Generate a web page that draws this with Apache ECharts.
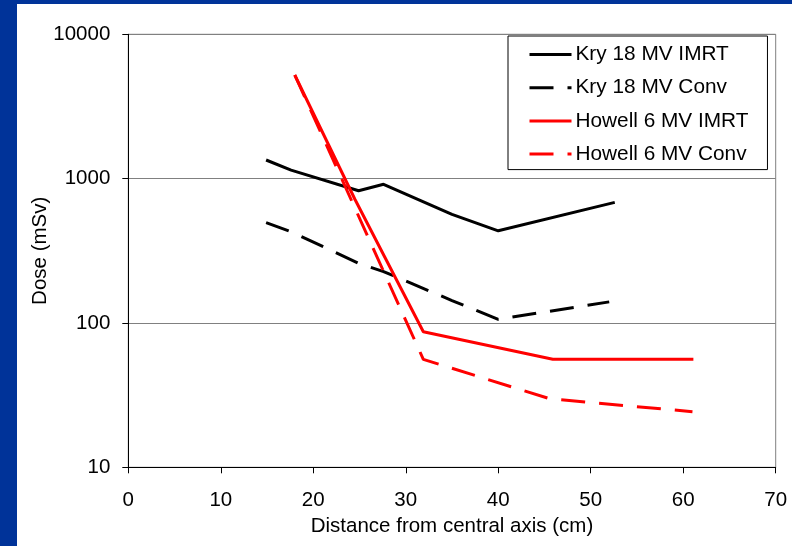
<!DOCTYPE html>
<html>
<head>
<meta charset="utf-8">
<script src="https://cdn.jsdelivr.net/npm/echarts@6/dist/echarts.min.js"></script>
<style>
html,body{margin:0;padding:0;background:#fff;}
#chart{width:792px;height:546px;}
</style>
</head>
<body>
<div id="chart"></div>
<script>
// Data
const seriesNames = ['Kry 18 MV IMRT', 'Kry 18 MV Conv', 'Howell 6 MV IMRT', 'Howell 6 MV Conv'];

const kryImrtX = [14.9, 17.6, 24.9, 27.6, 35, 40, 52.6];
const kryImrtY = [1346, 1145, 824, 914, 565, 435, 685];

const kryConvX = [14.9, 17.6, 24.9, 27.6, 35, 40, 52];
const kryConvY = [495, 429, 259, 227, 143, 106, 140];

const howellImrtX = [18, 24.5, 31.9, 45.9, 61.1];
const howellImrtY = [5224, 720, 87, 56, 56];

const howellConvX = [18, 31.9, 45.6, 61];
const howellConvY = [5224, 56, 29.8, 24.3];

const xTicks = [0, 10, 20, 30, 40, 50, 60, 70];
const yTicks = [10, 100, 1000, 10000];

function pairs(xs, ys) { return xs.map((x, i) => [x, ys[i]]); }

const FONT = "'Liberation Sans', Arial, sans-serif";
const chart = echarts.init(document.getElementById('chart'), null, {renderer: 'canvas'});

chart.setOption({
  backgroundColor: '#ffffff',
  animation: false,
  graphic: [
    {type: 'rect', left: 0, top: 0, shape: {width: 17, height: 546}, style: {fill: '#003399'}, z: 100},
    {type: 'rect', left: 0, top: 0, shape: {width: 792, height: 4}, style: {fill: '#003399'}, z: 100}
  ],
  grid: {
    left: 128.3, right: 16.3, top: 34.3, bottom: 78.7,
    show: true, borderColor: '#808080', borderWidth: 1, backgroundColor: 'transparent'
  },
  legend: {
    orient: 'vertical',
    left: 508, top: 36,
    padding: [8, 19, 5, 20],
    itemWidth: 42, itemHeight: 20, itemGap: 12.2,
    backgroundColor: '#ffffff',
    borderColor: '#000000', borderWidth: 1,
    itemStyle: {opacity: 0},
    lineStyle: {width: 3},
    textStyle: {fontFamily: FONT, fontSize: 20.8, color: '#000', lineHeight: 20, padding: [0,0,0,-1]},
    data: seriesNames
  },
  xAxis: {
    type: 'value', min: xTicks[0], max: xTicks[xTicks.length - 1], interval: 10,
    name: 'Distance from central axis (cm)', nameLocation: 'middle', nameGap: 49,
    nameTextStyle: {fontFamily: FONT, fontSize: 20.5, color: '#000'},
    axisLine: {show: true, onZero: false, lineStyle: {color: '#000', width: 1}},
    axisTick: {show: true, length: 6, lineStyle: {color: '#000'}},
    axisLabel: {fontFamily: FONT, fontSize: 20.5, color: '#000', margin: 23},
    splitLine: {show: false}
  },
  yAxis: {
    type: 'log', logBase: 10, min: yTicks[0], max: yTicks[yTicks.length - 1],
    name: 'Dose (mSv)', nameLocation: 'middle', nameGap: 77, nameRotate: 90,
    nameMoveOverlap: false,
    nameTextStyle: {fontFamily: FONT, fontSize: 20.5, color: '#000'},
    axisLine: {show: true, lineStyle: {color: '#000', width: 1}},
    axisTick: {show: true, length: 6, lineStyle: {color: '#000'}},
    axisLabel: {fontFamily: FONT, fontSize: 20.5, color: '#000', margin: 18,
                formatter: function (v) { return String(Math.round(v)); }},
    splitLine: {show: true, lineStyle: {color: '#808080', width: 1}},
    minorTick: {show: false}
  },
  series: [
    {name: seriesNames[0], type: 'line', symbol: 'none', data: pairs(kryImrtX, kryImrtY),
     lineStyle: {color: '#000', width: 3, type: 'solid'}, itemStyle: {color: '#000'}},
    {name: seriesNames[1], type: 'line', symbol: 'none', data: pairs(kryConvX, kryConvY),
     lineStyle: {color: '#000', width: 3, type: [24, 14]}, itemStyle: {color: '#000'}},
    {name: seriesNames[2], type: 'line', symbol: 'none', data: pairs(howellImrtX, howellImrtY),
     lineStyle: {color: '#ff0000', width: 3, type: 'solid'}, itemStyle: {color: '#ff0000'}},
    {name: seriesNames[3], type: 'line', symbol: 'none', data: pairs(howellConvX, howellConvY),
     lineStyle: {color: '#ff0000', width: 3, type: [24, 14]}, itemStyle: {color: '#ff0000'}}
  ]
});
</script>
</body>
</html>
